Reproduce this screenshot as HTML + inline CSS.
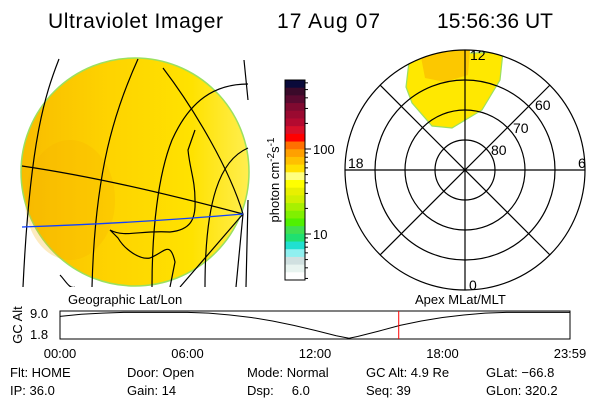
<!DOCTYPE html>
<html><head><meta charset="utf-8"><style>
body{margin:0;background:#fff}
svg{display:block;font-family:"Liberation Sans",sans-serif}
</style></head><body>
<svg width="600" height="400" viewBox="0 0 600 400">
<defs>
<linearGradient id="gl" x1="0" y1="0" x2="1" y2="0">
<stop offset="0" stop-color="#f8bc00"/><stop offset="0.4" stop-color="#fed400"/><stop offset="0.75" stop-color="#ffe200"/><stop offset="1" stop-color="#ffee50"/></linearGradient>
<clipPath id="gclip"><rect x="20" y="55" width="232" height="232"/></clipPath>
<clipPath id="pclip"><circle cx="465" cy="170" r="120"/></clipPath>
</defs>
<g font-size="21" fill="#000">
<text x="48" y="28" textLength="175">Ultraviolet Imager</text>
<text x="277" y="28" textLength="103">17 Aug 07</text>
<text x="437" y="28" textLength="116">15:56:36 UT</text>
</g>
<g clip-path="url(#gclip)">
<circle cx="135" cy="172" r="114" fill="url(#gl)" stroke="#9be060" stroke-width="1.5"/>
<ellipse cx="70" cy="200" rx="45" ry="60" fill="#f6b000" opacity="0.25"/>
<g fill="none" stroke="#000" stroke-width="1.2">
<path d="M59,59 C45,95 30,140 23,287"/>
<path d="M138,59 C115,110 95,170 92,287"/>
<path d="M163,68 C195,110 230,170 243,214"/>
<path d="M22,166 C90,176 160,192 243,214"/>
<path d="M248,84 C215,84 190,100 172,140 C158,175 152,230 152,287"/>
<path d="M248,148 C220,160 205,200 205,287"/>
<path d="M243,214 L180,287"/>
<path d="M243,214 L236,287"/>
<path d="M244,60 L248,100 M248,200 L246,287"/>
<path d="M60,275 C65,280 70,290 75,287"/>
<path d="M195,130 L188,150 C190,170 195,180 195,200 C196,220 190,230 170,232 C140,230 125,238 110,230 L118,238 C125,250 140,260 150,258 C165,252 170,240 175,262 L170,287"/>
</g>
<path d="M22,227 C80,225 150,222 243,214" fill="none" stroke="#1040ff" stroke-width="1.3"/>
</g>
<g id="cbar"></g>
<text transform="translate(279,180) rotate(-90)" text-anchor="middle" font-size="13">photon cm<tspan dy="-5" font-size="10">-2</tspan><tspan dy="5">s</tspan><tspan dy="-5" font-size="10">-1</tspan></text>
<g>
<path clip-path="url(#pclip)" d="M410,55 L503,52 L500,80 L482,110 L452,128 L432,126 L412,103 L406,87 L408,70 Z" fill="#ffe800" stroke="#9be060" stroke-width="1.2"/>
<path clip-path="url(#pclip)" d="M420,52 L470,50 L468,75 L445,82 L425,78 Z" fill="#fcc800"/>
<g fill="none" stroke="#000" stroke-width="1.2">
<circle cx="465" cy="170" r="30"/><circle cx="465" cy="170" r="60"/><circle cx="465" cy="170" r="90"/><circle cx="465" cy="170" r="120"/>
<line x1="345" y1="170" x2="585" y2="170"/><line x1="465" y1="50" x2="465" y2="290"/>
<line x1="380" y1="85" x2="550" y2="255"/><line x1="550" y1="85" x2="380" y2="255"/>
</g>
<g font-size="14">
<text x="470" y="60">12</text><text x="348" y="168">18</text><text x="578" y="168">6</text><text x="469" y="290">0</text>
<text x="535" y="110">60</text><text x="513" y="133">70</text><text x="491" y="155">80</text>
</g></g>
<g>
<text x="68" y="304" font-size="13">Geographic Lat/Lon</text>
<text x="415" y="304" font-size="13">Apex MLat/MLT</text>
<text transform="translate(22,325) rotate(-90)" text-anchor="middle" font-size="13">GC Alt</text>
<text x="30" y="318" font-size="13">9.0</text><text x="30" y="339" font-size="13">1.8</text>
<rect x="60" y="311" width="510" height="28" fill="none" stroke="#000"/>
<g id="strip"></g>
<g font-size="13" text-anchor="middle" id="tl"></g>
</g>
<g font-size="13">
<text x="10" y="377">Flt: HOME</text><text x="127" y="377">Door: Open</text><text x="247" y="377">Mode: Normal</text><text x="366" y="377">GC Alt: 4.9 Re</text><text x="486" y="377">GLat: −66.8</text>
<text x="10" y="395">IP: 36.0</text><text x="127" y="395">Gain: 14</text><text x="247" y="395">Dsp:&#160;&#160;&#160;&#160; 6.0</text><text x="366" y="395">Seq: 39</text><text x="486" y="395">GLon: 320.2</text>
</g>
</svg>
<script>
const hours=[0,1,2,3,4,5,6,7,8,9,10,11,12,13,13.6,14,15,16,17,18,19,20,21,22,23,24];
const altitude=[7.9,8.5,8.8,9.0,9.0,9.0,9.0,8.8,8.3,7.6,6.6,5.4,4.0,2.5,1.8,2.3,3.8,5.4,6.6,7.6,8.3,8.8,9.0,9.0,9.0,9.0];
const tickHours=[0,6,12,18,24];
const tickLabels=["00:00","06:00","12:00","18:00","23:59"];
const currentHour=15.94;
const cbarColors=["#0a0a3a","#3a0a2a","#5a0a30","#800a30","#9a0a30","#b40a30","#d8102a","#ff0000","#ff7000","#ffa000","#ffc000","#ffe000","#ffff80","#ffff00","#e8f000","#d0f000","#a8f000","#80f000","#50f000","#40e050","#20e070","#20e0d0","#90f0f0","#d0e0e0","#e8f4f0","#ffffff"];
const cbarTicks=[10,100];
const ns="http://www.w3.org/2000/svg";
const X=h=>60+h*510/24, Y=v=>311+(9.4-v)*28/7.8;
const strip=document.getElementById('strip');
let d=hours.map((h,i)=>(i?'L':'M')+X(h)+','+Y(altitude[i])).join(' ');
const p=document.createElementNS(ns,'path');p.setAttribute('d',d);p.setAttribute('fill','none');p.setAttribute('stroke','#000');


strip.appendChild(p);
const rl=document.createElementNS(ns,'line');rl.setAttribute('x1',X(currentHour));rl.setAttribute('x2',X(currentHour));rl.setAttribute('y1',311);rl.setAttribute('y2',339);rl.setAttribute('stroke','#f00');


strip.appendChild(rl);
const tl=document.getElementById('tl');
tickHours.forEach((h,i)=>{const t=document.createElementNS(ns,'text');t.setAttribute('x',X(h));t.setAttribute('y',358);t.textContent=tickLabels[i];


tl.appendChild(t);});
const cb=document.getElementById('cbar');
const cbTop=80,cbBot=280,bh=(cbBot-cbTop)/cbarColors.length;
cbarColors.forEach((c,i)=>{const r=document.createElementNS(ns,'rect');r.setAttribute('x',285);r.setAttribute('y',cbTop+i*bh);r.setAttribute('width',20);r.setAttribute('height',bh+0.5);r.setAttribute('fill',c);


cb.appendChild(r);});
const fr=document.createElementNS(ns,'rect');fr.setAttribute('x',285);fr.setAttribute('y',cbTop);fr.setAttribute('width',20);fr.setAttribute('height',cbBot-cbTop);fr.setAttribute('fill','none');fr.setAttribute('stroke','#000');


cb.appendChild(fr);
const CY=v=>149-(Math.log10(v)-2)*85;
for(let dec=1;dec<=100;dec*=10)for(let m=1;m<10;m++){const v=dec*m;const y=CY(v);if(y<cbTop||y>cbBot)continue;
const l=document.createElementNS(ns,'line');l.setAttribute('x1',305);l.setAttribute('x2',m==1?311:308);l.setAttribute('y1',y);l.setAttribute('y2',y);l.setAttribute('stroke','#000');


cb.appendChild(l);}
cbarTicks.forEach(v=>{const t=document.createElementNS(ns,'text');t.setAttribute('x',313);t.setAttribute('y',CY(v)+5);t.setAttribute('font-size','13');t.textContent=v;


cb.appendChild(t);});
</script>
</body></html>
